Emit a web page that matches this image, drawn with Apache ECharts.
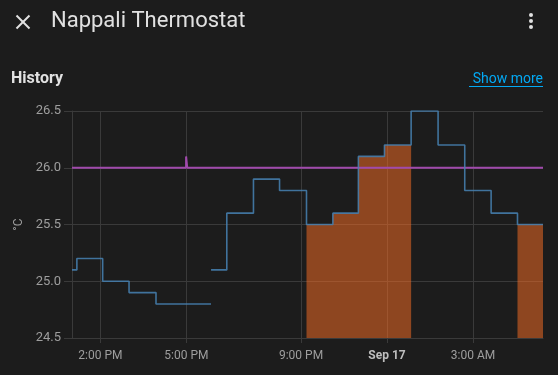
<!DOCTYPE html>
<html>
<head>
<meta charset="utf-8">
<script src="https://cdn.jsdelivr.net/npm/echarts@6/dist/echarts.min.js"></script>
<style>
html,body{margin:0;padding:0;background:#1c1c1c;}
#chart{width:558px;height:375px;}
</style>
</head>
<body>
<div id="chart"></div>
<script>
// Hours since Sep 16 00:00
const xTickHours = [14, 17, 21, 24, 27];
const xTickLabels = ['2:00 PM', '5:00 PM', '9:00 PM', 'Sep 17', '3:00 AM'];
const yTicks = [24.5, 25.0, 25.5, 26.0, 26.5];

const currentHours = [13.01, 13.18, 14.08, 15.00, 15.94, 17.86, 17.86, 17.86, 18.41, 19.34, 20.25, 21.19, 22.11, 23.00, 23.91, 24.84, 25.78, 26.71, 27.63, 28.55, 29.44];
const currentTemps = [25.1, 25.2, 25.0, 24.9, 24.8, 24.8, null, 25.1, 25.6, 25.9, 25.8, 25.5, 25.6, 26.1, 26.2, 26.5, 26.2, 25.8, 25.6, 25.5, 25.5];

const heatingHours = [21.19, 22.11, 23.00, 23.91, 24.84, 24.84, 28.55, 29.44];
const heatingTemps = [25.5, 25.6, 26.1, 26.2, 26.2, null, 25.5, 25.5];

const targetHours = [13.01, 16.99, 17.03, 29.44];
const targetTemps = [26.0, 26.1, 26.0, 26.0];

const zip = (xs, ys) => xs.map((x, i) => [x, ys[i]]);

const chart = echarts.init(document.getElementById('chart'), null, {renderer: 'canvas'});
const gridColor = '#3a3a3a';
const labelColor = '#9e9e9e';
const font = 'Roboto';

chart.setOption({
  backgroundColor: '#1c1c1c',
  animation: false,
  textStyle: {fontFamily: font},
  grid: {left: 72, right: 15, top: 111, bottom: 37, containLabel: false},
  xAxis: {
    type: 'value',
    min: 13.01,
    max: 29.44,
    axisLine: {show: true, lineStyle: {color: gridColor}},
    axisTick: {show: true, length: 5, lineStyle: {color: gridColor}, customValues: xTickHours},
    splitLine: {show: true, lineStyle: {color: gridColor}},
    axisLabel: {
      customValues: xTickHours,
      color: labelColor,
      fontSize: 12,
      margin: 12,
      fontFamily: font,
      formatter: function (v) {
        const i = xTickHours.indexOf(Math.round(v));
        if (i < 0) return '';
        return xTickLabels[i] === 'Sep 17' ? '{b|' + xTickLabels[i] + '}' : xTickLabels[i];
      },
      rich: {b: {fontWeight: 'bold', color: '#bdbdbd', fontSize: 12, fontFamily: font}}
    }
  },
  yAxis: {
    type: 'value',
    min: 24.5,
    max: 26.5,
    interval: 0.5,
    name: '°C',
    nameLocation: 'middle',
    nameGap: 41,
    nameTextStyle: {color: labelColor, fontSize: 12, fontFamily: font},
    axisLine: {show: true, lineStyle: {color: gridColor}},
    axisTick: {show: true, length: 8, lineStyle: {color: gridColor}},
    splitLine: {show: true, lineStyle: {color: gridColor}},
    axisLabel: {
      color: labelColor, fontSize: 13, margin: 11, fontFamily: font,
      formatter: v => v.toFixed(1)
    }
  },
  series: [
    {
      name: 'Target temperature',
      type: 'line',
      step: 'end',
      symbol: 'none',
      data: zip(targetHours, targetTemps),
      lineStyle: {color: '#a04aac', width: 2}
    },
    {
      name: 'Heating',
      type: 'line',
      step: 'end',
      symbol: 'none',
      connectNulls: false,
      data: zip(heatingHours, heatingTemps),
      lineStyle: {width: 0},
      itemStyle: {color: 'rgba(255,112,36,0.5)'},
      areaStyle: {color: 'rgba(255,112,36,0.5)', opacity: 1, origin: 'start'}
    },
    {
      name: 'Current temperature',
      type: 'line',
      step: 'end',
      symbol: 'none',
      connectNulls: false,
      data: zip(currentHours, currentTemps),
      lineStyle: {color: 'rgba(70,130,180,0.85)', width: 1.6}
    }
  ],
  graphic: [
    {type: 'line', shape: {x1: 16.5, y1: 15.5, x2: 29.5, y2: 28.5}, style: {stroke: '#e1e1e1', lineWidth: 2}},
    {type: 'line', shape: {x1: 29.5, y1: 15.5, x2: 16.5, y2: 28.5}, style: {stroke: '#e1e1e1', lineWidth: 2}},
    {type: 'text', x: 51, y: 21.5, style: {text: 'Nappali Thermostat', fill: '#e1e1e1', font: '22px Roboto', verticalAlign: 'middle'}},
    {type: 'circle', shape: {cx: 531, cy: 15, r: 2}, style: {fill: '#e1e1e1'}},
    {type: 'circle', shape: {cx: 531, cy: 21, r: 2}, style: {fill: '#e1e1e1'}},
    {type: 'circle', shape: {cx: 531, cy: 27, r: 2}, style: {fill: '#e1e1e1'}},
    {type: 'text', x: 11, y: 79, style: {text: 'History', fill: '#e1e1e1', font: 'bold 16px Roboto', verticalAlign: 'middle'}},
    {type: 'text', x: 543, y: 79, style: {text: 'Show more', fill: '#03a9f4', font: '14px Roboto', align: 'right', verticalAlign: 'middle'}},
    {type: 'line', shape: {x1: 469, y1: 86.5, x2: 543, y2: 86.5}, style: {stroke: '#03a9f4', lineWidth: 1}}
  ]
});
</script>
</body>
</html>
